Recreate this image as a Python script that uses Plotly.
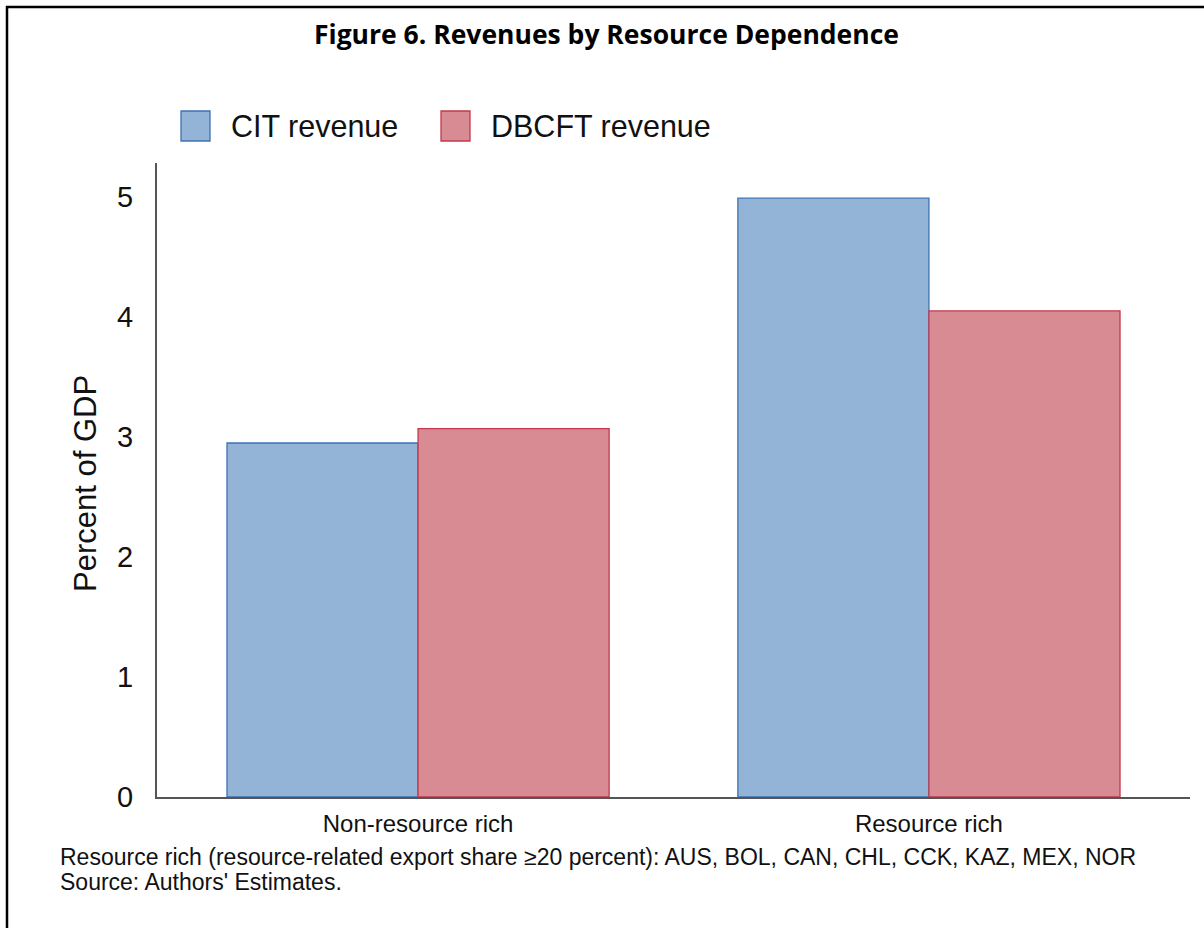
import plotly.graph_objects as go

categories = ["Non-resource rich", "Resource rich"]
cit_revenue = [2.95, 4.99]
dbcft_revenue = [3.07, 4.05]
series_names = ["CIT revenue", "DBCFT revenue"]
y_ticks = [0, 1, 2, 3, 4, 5]

W, H = 1204, 928
L, R, T, B = 157, 14, 163, 131
PW, PH = W - L - R, H - T - B

def px(x):
    return (x - L) / PW

def py(y):
    return 1 - (y - T) / PH

blue_fill, blue_line = "#93B3D7", "#3D72B4"
red_fill, red_line = "#D98B94", "#C3384C"
FONT = "Liberation Sans"

fig = go.Figure()
fig.add_bar(x=categories, y=cit_revenue, name=series_names[0],
            marker=dict(color=blue_fill, line=dict(color=blue_line, width=1.3)),
            showlegend=False)
fig.add_bar(x=categories, y=dbcft_revenue, name=series_names[1],
            marker=dict(color=red_fill, line=dict(color=red_line, width=1.3)),
            showlegend=False)

shapes = []
annotations = []
# legend drawn manually
leg = [(181, 210, 229, series_names[0], blue_fill, blue_line),
       (441, 470, 489, series_names[1], red_fill, red_line)]
for x0, x1, tx, name, fc, lc in leg:
    shapes.append(dict(type="rect", xref="paper", yref="paper",
                       x0=px(x0), x1=px(x1), y0=py(141), y1=py(111),
                       fillcolor=fc, line=dict(color=lc, width=1.3)))
    annotations.append(dict(xref="paper", yref="paper", x=px(tx), y=py(126),
                            xanchor="left", yanchor="middle", showarrow=False,
                            text=name, font=dict(family=FONT, size=30.5, color="#111")))
# border
shapes.append(dict(type="line", xref="paper", yref="paper", x0=px(7), x1=px(7),
                   y0=py(6), y1=py(H + 5), line=dict(color="black", width=2.5)))
shapes.append(dict(type="line", xref="paper", yref="paper", x0=px(6), x1=px(W + 5),
                   y0=py(7), y1=py(7), line=dict(color="black", width=2.5)))
# notes
annotations.append(dict(xref="paper", yref="paper", x=px(58), y=py(857),
                        xanchor="left", yanchor="middle", showarrow=False,
                        text="Resource rich (resource-related export share \u226520 percent): AUS, BOL, CAN, CHL, CCK, KAZ, MEX, NOR",
                        font=dict(family=FONT, size=23, color="#111")))
annotations.append(dict(xref="paper", yref="paper", x=px(58), y=py(882),
                        xanchor="left", yanchor="middle", showarrow=False,
                        text="Source: Authors' Estimates.",
                        font=dict(family=FONT, size=23, color="#111")))
# y title
annotations.append(dict(xref="paper", yref="paper", x=px(85), y=py(484),
                        xanchor="center", yanchor="middle", showarrow=False, textangle=-90,
                        text="Percent of GDP",
                        font=dict(family=FONT, size=31, color="#111")))
# title
annotations.append(dict(xref="paper", yref="paper", x=px(606), y=py(34),
                        xanchor="center", yanchor="middle", showarrow=False,
                        text="<b>Figure 6. Revenues by Resource Dependence</b>",
                        font=dict(family="Open Sans", size=26.5, color="black")))

fig.update_layout(
    width=W, height=H,
    margin=dict(l=L, r=R, t=T, b=B, pad=0),
    paper_bgcolor="white", plot_bgcolor="white",
    barmode="group", bargap=0.252, bargroupgap=0,
    shapes=shapes, annotations=annotations,
    xaxis=dict(range=[-0.511, 1.511], showline=True, linecolor="#555", linewidth=2,
               ticks="", showgrid=False, zeroline=False, ticklabelstandoff=4,
               tickfont=dict(family=FONT, size=24, color="#111")),
    yaxis=dict(range=[0, 5.283], showline=True, linecolor="#555", linewidth=2,
               tickvals=y_ticks, ticks="", showgrid=False, zeroline=False,
               ticklabelstandoff=16,
               tickfont=dict(family=FONT, size=29, color="#111")),
)

fig.write_html("out.html", config={"displayModeBar": False},
               post_script="document.body.style.margin='0';")
